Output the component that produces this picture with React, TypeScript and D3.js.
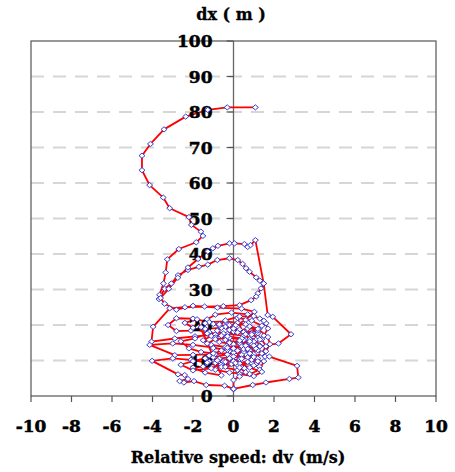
import * as d3 from 'd3';

type Pt = [number, number];

// dv (m/s), dx (m), in path order

const descent: Pt[] = [
  [1.08, 81.3], [-0.31, 81.3], [-1.27, 80.6], [-2.36, 78.7], [-3.43, 75.1],
  [-4.1, 71.0], [-4.52, 67.7], [-4.52, 63.6], [-4.14, 59.4], [-3.47, 55.9],
  [-3.15, 52.9], [-2.2, 50.4], [-2.08, 48.2], [-1.61, 46.3], [-1.51, 45.1],
  [-1.84, 43.3], [-2.7, 41.4], [-3.27, 38.5], [-3.35, 34.8], [-3.46, 31.7],
  [-3.65, 28.5], [-3.68, 27.3],
];

const lowerArc: Pt[] = [
  [-3.4, 30.2], [-3.07, 31.7], [-2.74, 34.0], [-2.25, 35.5], [-1.71, 36.4],
  [-1.27, 37.0], [-0.8, 38.3], [-0.2, 38.8], [0.21, 38.3], [0.45, 37.2],
  [0.62, 36.0], [0.79, 35.0], [1.12, 33.4], [1.3, 32.5], [1.49, 31.7],
  [1.36, 30.3], [1.2, 28.9], [1.12, 28.0], [0.87, 27.0], [0.3, 25.6],
];

const clusterA: Pt[] = [
  [-0.5, 25.3], [-1.43, 25.2], [-2.4, 25.0], [-3.15, 24.7], [-3.97, 19.5],
  [-4.05, 15.3], [-2.9, 16.2], [-1.9, 16.8], [-0.9, 17.3], [0.0, 18.1],
  [0.7, 19.0], [1.28, 19.0], [1.61, 20.5], [1.3, 21.8], [0.7, 23.0],
  [-0.1, 23.5], [-0.9, 22.9], [-1.3, 21.6], [-1.0, 20.3], [-0.4, 19.5],
  [0.3, 18.7], [0.9, 17.7], [1.2, 16.4], [1.0, 15.0], [0.4, 14.1],
  [-0.4, 13.8], [-1.1, 14.4], [-1.5, 15.7], [-1.1, 16.9], [-0.3, 17.5],
  [0.5, 17.0], [1.1, 15.8],
];

const clusterB: Pt[] = [
  [1.3, 14.2], [0.8, 12.9], [0.0, 12.2], [-0.9, 11.8], [-2.0, 11.6],
  [-2.9, 11.5], [-4.14, 14.4], [-3.0, 14.8], [-2.0, 14.4], [-1.0, 13.6],
  [-0.2, 12.7], [0.6, 11.8], [1.2, 10.6], [0.9, 9.3], [0.2, 8.7],
  [-0.6, 8.9], [-1.2, 9.7], [-1.0, 10.9], [-0.3, 11.7], [0.5, 12.4],
  [1.2, 12.9], [1.56, 11.1], [1.77, 11.1], [3.14, 8.5], [3.2, 5.2],
  [2.76, 4.8], [1.6, 3.8], [0.95, 3.1], [0.0, 2.0], [-0.44, 2.9],
  [-1.35, 3.1], [-1.95, 4.2], [-2.45, 3.8], [-2.66, 4.2], [-2.25, 4.8],
  [-2.41, 5.9], [-2.74, 6.1], [-4.02, 9.9], [-3.0, 10.6], [-2.1, 10.2],
  [-1.3, 9.4], [-0.6, 8.2], [0.2, 7.3], [0.54, 7.8], [1.0, 8.6],
  [1.28, 8.3], [1.2, 9.8], [0.7, 10.9], [0.0, 11.1], [-0.7, 10.5],
  [-0.9, 9.3], [-0.4, 8.2],
];

const clusterC: Pt[] = [
  [0.3, 9.2], [0.9, 10.2], [1.4, 12.0], [1.6, 14.0], [1.4, 16.0],
  [0.9, 17.3], [0.2, 17.9], [-0.5, 17.6], [-0.9, 16.5], [-0.7, 15.2],
  [0.0, 14.6], [0.8, 14.9], [1.3, 15.9], [1.2, 17.7], [0.8, 19.6],
  [0.2, 20.6], [-0.4, 21.0], [-1.2, 20.8], [-2.0, 21.8], [-2.82, 21.9],
  [-3.23, 20.0], [-2.82, 18.3], [-2.1, 18.4], [-1.4, 18.9], [-0.6, 19.2],
  [0.1, 19.9], [0.6, 21.4], [1.03, 23.7], [0.4, 24.6], [-0.8, 24.9],
  [-2.0, 25.4], [-2.82, 24.3], [-3.4, 26.0], [-3.6, 27.6],
];

const upperArc: Pt[] = [
  [-3.2, 30.2], [-2.75, 33.3], [-2.25, 36.2], [-1.75, 38.6], [-1.27, 40.7],
  [-1.02, 41.6], [-0.77, 42.3], [-0.2, 43.0], [0.05, 43.0], [0.54, 42.8],
  [0.7, 42.0], [0.84, 42.5], [1.08, 43.9], [1.49, 31.7], [1.69, 22.8],
  [1.94, 22.3], [2.84, 17.4], [2.22, 14.8],
];

const clusterE: Pt[] = [
  [1.3, 14.0], [0.5, 13.2], [-0.3, 13.0], [-1.0, 13.5], [-1.3, 14.8],
  [-0.9, 16.0], [-0.2, 16.4], [0.5, 15.8], [0.9, 14.6], [0.7, 13.3],
  [0.2, 22.0], [0.9, 21.2], [1.4, 19.8], [1.2, 18.4], [0.5, 18.0],
  [-0.2, 18.6], [-0.7, 19.8], [-0.4, 21.3], [0.3, 22.4], [1.0, 22.5],
  [1.5, 21.2], [1.7, 19.0], [1.5, 17.0], [1.0, 15.3], [0.3, 14.9],
  [-0.4, 15.8], [-0.6, 17.0], [-1.2, 18.0], [-1.6, 19.4], [-1.4, 20.5],
  [-0.7, 20.2], [0.0, 19.0], [0.6, 17.4], [0.8, 16.0], [1.1, 13.4],
  [1.0, 11.8], [0.4, 11.6], [-0.2, 10.6], [-0.5, 9.7], [-0.1, 9.0],
  [0.7, 9.6], [1.5, 9.8], [1.3, 7.4], [0.8, 6.2], [-0.2, 6.6],
  [-0.9, 7.4], [-1.5, 8.3], [-2.0, 8.0], [-1.4, 6.6], [-0.6, 5.8],
];

const clusterF: Pt[] = [
  [-1.8, 21.6], [-2.4, 20.6], [-2.0, 19.2], [-1.3, 17.6], [-1.9, 16.2],
  [-2.6, 15.4], [-2.2, 13.4], [-1.6, 12.4], [-1.0, 12.0], [-1.4, 10.6],
  [-2.0, 9.8], [-2.6, 8.8], [-2.0, 7.2], [-1.1, 7.8], [-0.4, 9.6],
  [0.3, 10.4], [1.0, 11.0], [1.6, 12.6], [1.8, 14.6], [1.7, 16.6],
  [1.2, 18.9], [0.6, 20.2], [-0.2, 20.0], [-0.8, 18.4], [-0.3, 16.8],
  [0.4, 16.2], [0.6, 14.2], [0.0, 13.4], [-0.6, 12.8], [-1.2, 11.4],
  [-0.8, 10.0], [0.0, 9.8], [0.8, 8.0], [1.4, 6.8], [1.0, 5.6],
  [0.3, 6.2],
];

const finalApproach: Pt[] = [
  [0.2, 12.8], [-0.3, 13.6], [-0.2, 15.0], [0.3, 15.6], [0.8, 15.4],
  [1.0, 14.2], [0.8, 12.0], [0.4, 10.5], [0.1, 9.3], [0.3, 8.0],
  [0.6, 6.7], [0.3, 5.5], [0.0, 4.5], [0.0, 2.0], [0.0, 2.0], [0.0, 2.0],
];

const trajectory: Pt[] = [
  ...descent, ...lowerArc, ...clusterA, ...clusterB, ...clusterC,
  ...upperArc, ...clusterE, ...clusterF, ...finalApproach,
];

const xTicks = [-10, -8, -6, -4, -2, 0, 2, 4, 6, 8, 10];
const yTicks = [0, 10, 20, 30, 40, 50, 60, 70, 80, 90, 100];
const gridLines = [10, 20, 30, 40, 50, 60, 70, 80, 90];

const diamond = 'M-3,0L0,-2.6L3,0L0,2.6Z';

export default function App() {
  const width = 455;
  const height = 472;

  const x = d3.scaleLinear().domain([-10, 10]).range([31, 436]);
  const y = d3.scaleLinear().domain([0, 100]).range([396, 41]);

  const line = d3
    .line<Pt>()
    .x((d) => x(d[0]))
    .y((d) => y(d[1]));

  const tickFont = {
    fontFamily: '"DejaVu Serif", serif',
    fontWeight: 'bold' as const,
    fontSize: 17,
    stroke: '#000',
    strokeWidth: 0.5,
  };
  const titleFont = {
    fontFamily: '"DejaVu Serif", serif',
    fontWeight: 'bold' as const,
    fontSize: 16,
    stroke: '#000',
    strokeWidth: 0.3,
  };

  return (
    <svg
      width={width}
      height={height}
      style={{ position: 'absolute', left: 0, top: 0, background: '#fff' }}
    >
      {/* dashed grid */}
      {gridLines.map((g) => (
        <line
          key={g}
          x1={x(-10)}
          x2={x(10)}
          y1={y(g)}
          y2={y(g)}
          stroke="#d6d6d6"
          strokeWidth={2}
          strokeDasharray="13 9"
        />
      ))}

      {/* plot box */}
      <rect
        x={x(-10)}
        y={y(100)}
        width={x(10) - x(-10)}
        height={y(0) - y(100)}
        fill="none"
        stroke="#555"
        strokeWidth={1.2}
      />

      {/* y axis at dv = 0 */}
      <line x1={x(0)} x2={x(0)} y1={y(0)} y2={y(100)} stroke="#666" strokeWidth={1.3} />
      {yTicks.map((t) => (
        <line key={t} x1={x(0) - 7} x2={x(0)} y1={y(t)} y2={y(t)} stroke="#555" strokeWidth={1.2} />
      ))}

      {/* x ticks below the box */}
      {xTicks.map((t) => (
        <line key={t} x1={x(t)} x2={x(t)} y1={y(0)} y2={y(0) + 6} stroke="#555" strokeWidth={1.2} />
      ))}

      {/* trajectory line */}
      <path d={line(trajectory) ?? ''} fill="none" stroke="#ff0000" strokeWidth={1.8} strokeLinejoin="round" />

      {/* y tick labels */}
      {yTicks.map((t) => (
        <text key={t} x={x(0) - 21} y={y(t) + 6} textAnchor="end" {...tickFont} fill="#000">
          {t}
        </text>
      ))}

      {/* markers */}
      {trajectory.map((d, i) => (
        <path
          key={i}
          d={diamond}
          transform={`translate(${x(d[0])},${y(d[1])})`}
          fill="#fff"
          stroke="#2b2bc8"
          strokeWidth={0.9}
        />
      ))}

      {/* x tick labels */}
      {xTicks.map((t) => (
        <text key={t} x={x(t)} y={432} textAnchor="middle" {...tickFont} fill="#000">
          {t}
        </text>
      ))}

      <text x={231} y={20} textAnchor="middle" {...titleFont} fill="#000">
        dx ( m )
      </text>
      <text x={238} y={463} textAnchor="middle" {...titleFont} fill="#000">
        Relative speed: dv (m/s)
      </text>
    </svg>
  );
}
